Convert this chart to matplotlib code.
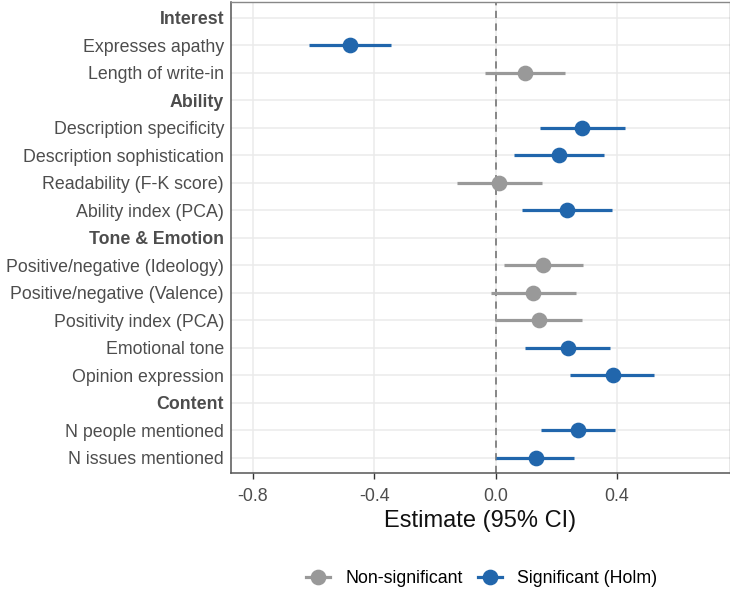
import numpy as np
import matplotlib
matplotlib.use("Agg")
import matplotlib.pyplot as plt
from matplotlib.lines import Line2D

plt.rcParams['font.family'] = ['Liberation Sans', 'DejaVu Sans']

# rows from top to bottom, headers have no estimate
labels = ["Interest", "Expresses apathy", "Length of write-in",
          "Ability", "Description specificity", "Description sophistication",
          "Readability (F-K score)", "Ability index (PCA)",
          "Tone & Emotion", "Positive/negative (Ideology)", "Positive/negative (Valence)",
          "Positivity index (PCA)", "Emotional tone", "Opinion expression",
          "Content", "N people mentioned", "N issues mentioned"]
is_header = [True, False, False, True, False, False, False, False,
             True, False, False, False, False, False, True, False, False]
estimate = [None, -0.481, 0.096, None, 0.286, 0.209, 0.013, 0.235,
            None, 0.158, 0.123, 0.143, 0.238, 0.387, None, 0.271, 0.132]
ci_low = [None, -0.616, -0.036, None, 0.146, 0.060, -0.126, 0.087,
          None, 0.027, -0.014, -0.001, 0.097, 0.247, None, 0.149, 0.003]
ci_high = [None, -0.346, 0.228, None, 0.427, 0.359, 0.152, 0.383,
           None, 0.287, 0.265, 0.284, 0.379, 0.523, None, 0.395, 0.259]
significant = [None, True, False, None, True, True, False, True,
               None, False, False, False, True, True, None, True, True]

blue = "#2166AC"
grey = "#999999"

fig = plt.figure(figsize=(7.3, 5.92), dpi=100)
ax = fig.add_axes([0.3164, 0.201, 0.683, 0.7956])

n = len(labels)
ypos = np.arange(n)

for i in range(n):
    if is_header[i]:
        continue
    col = blue if significant[i] else grey
    ax.plot([ci_low[i], ci_high[i]], [i, i], color=col, lw=2.3, solid_capstyle='butt', zorder=3)
    ax.plot(estimate[i], i, 'o', color=col, ms=10.3, zorder=4)

ax.axvline(0, color="#7F7F7F", ls=(0, (4, 3)), lw=1.3, zorder=2)

ax.set_ylim(n - 0.45, -0.58)
ax.set_xlim(-0.8725, 0.772)
ax.set_xticks([-0.8, -0.4, 0.0, 0.4])
ax.set_xticklabels(["-0.8", "-0.4", "0.0", "0.4"])
ax.set_yticks(ypos)
ax.set_yticklabels(labels)
for t, h in zip(ax.get_yticklabels(), is_header):
    if h:
        t.set_fontweight('bold')

ax.grid(True, color="#EBEBEB", lw=1.1, zorder=0)
ax.set_axisbelow(True)
ax.tick_params(axis='y', length=0, pad=5, labelsize=12.8, labelcolor="#4D4D4D")
ax.tick_params(axis='x', length=4, width=1, color="#333333", pad=6.5, labelsize=12.8, labelcolor="#4D4D4D")
for s in ['left', 'bottom']:
    ax.spines[s].set_color("#555555")
    ax.spines[s].set_linewidth(1.1)
for s in ['top', 'right']:
    ax.spines[s].set_color("#888888")
    ax.spines[s].set_linewidth(1.0)

ax.set_xlabel("Estimate (95% CI)", fontsize=17, labelpad=4, color="#111111")

handles = [Line2D([0], [0], color=grey, lw=2.3, marker='o', ms=10.3),
           Line2D([0], [0], color=blue, lw=2.3, marker='o', ms=10.3)]
fig.legend(handles, ["Non-significant", "Significant (Holm)"], loc='center',
           bbox_to_anchor=(0.66, 0.022), ncol=2, frameon=False, fontsize=12.8,
           handlelength=1.35, columnspacing=0.85, handletextpad=0.85)

fig.savefig("out.png", dpi=100)
